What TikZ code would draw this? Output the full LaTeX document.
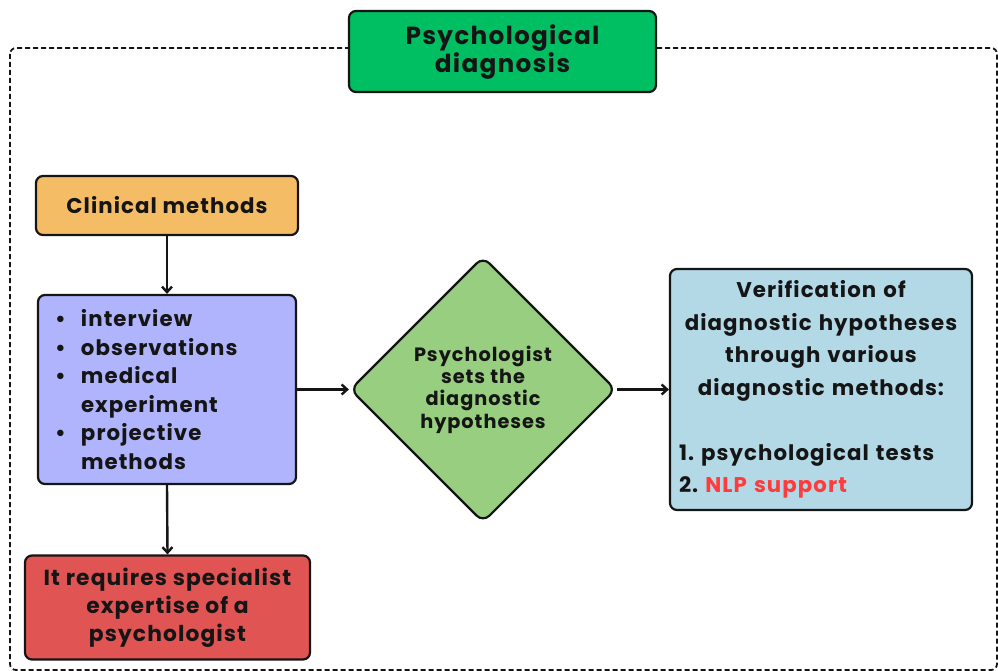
\documentclass[tikz,border=0pt]{standalone}
\usepackage{fontspec}
\setmainfont{Poppins}[LetterSpace=5]
\frenchspacing
\usetikzlibrary{shapes.geometric,arrows.meta}
\definecolor{titlegreen}{HTML}{00BF63}
\definecolor{clinorange}{HTML}{F5BC66}
\definecolor{methlav}{HTML}{AFB4FC}
\definecolor{reqred}{HTML}{E05454}
\definecolor{diagreen}{HTML}{97CE7F}
\definecolor{verblue}{HTML}{B3D9E6}
\definecolor{nlpred}{HTML}{FF3B3B}
\definecolor{ink}{HTML}{151515}
\begin{document}
\begin{tikzpicture}[x=1pt,y=-1pt,
  box/.style={draw=ink, line width=2.2pt, rounded corners=7pt, inner sep=0pt,
    text=ink, align=center, font=\bfseries\fontsize{21.3}{28.5}\selectfont},
  link/.style={-{Straight Barb[length=5.5pt,width=10pt]}, line width=2.4pt, draw=ink},
  frame/.style={draw=ink, line width=1.8pt, dash pattern=on 5pt off 3pt, rounded corners=6pt}]
\useasboundingbox (0,0) rectangle (998,671);

% dashed outer frame, behind the title box
\draw[frame] (10,48) rectangle (997,670);

% title
\node[box, fill=titlegreen, minimum width=307pt, minimum height=81pt,
  font=\bfseries\fontsize{24.8}{28}\selectfont] (title) at (502.5,51.5)
  {Psychological\\diagnosis};

% left column
\node[box, fill=clinorange, minimum width=262pt, minimum height=59pt] (clin) at (167,205.5)
  {Clinical methods};

\node[box, fill=methlav, minimum width=258pt, minimum height=189pt, align=left,
  text width=224pt, inner xsep=17pt] (meth) at (167,389.5)
  {\makebox[26pt][l]{•}interview\\
   \makebox[26pt][l]{•}observations\\
   \makebox[26pt][l]{•}medical\\
   \makebox[26pt][l]{}experiment\\
   \makebox[26pt][l]{•}projective\\
   \makebox[26pt][l]{}methods};

\node[box, fill=reqred, minimum width=285pt, minimum height=104pt,
  font=\bfseries\fontsize{21.8}{28}\selectfont] (req) at (167.5,607.5)
  {It requires specialist\\expertise of a\\psychologist};

% decision
\node[box, diamond, fill=diagreen, minimum width=266pt, minimum height=266pt,
  rounded corners=9pt, font=\bfseries\fontsize{19.3}{22.3}\selectfont] (hyp) at (483,389.5)
  {Psychologist\\sets the\\diagnostic\\hypotheses};

% verification
\node[box, fill=verblue, minimum width=302pt, minimum height=241pt, text width=284pt,
  inner xsep=9pt, font=\bfseries\fontsize{21.3}{32.5}\selectfont] (ver) at (821,389.5)
  {Verification of\\diagnostic hypotheses\\through various\\diagnostic methods:\\[32.5pt]
   \makebox[\linewidth][l]{1. psychological tests}\\
   \makebox[\linewidth][l]{2. \textcolor{nlpred}{NLP support}}};

% connectors
\draw[link] (clin.south) -- (meth.north);
\draw[link] (meth.south) -- (req.north);
\draw[link] (meth.east) -- (hyp.west);
\draw[link] (hyp.east) -- (ver.west);
\end{tikzpicture}
\end{document}
